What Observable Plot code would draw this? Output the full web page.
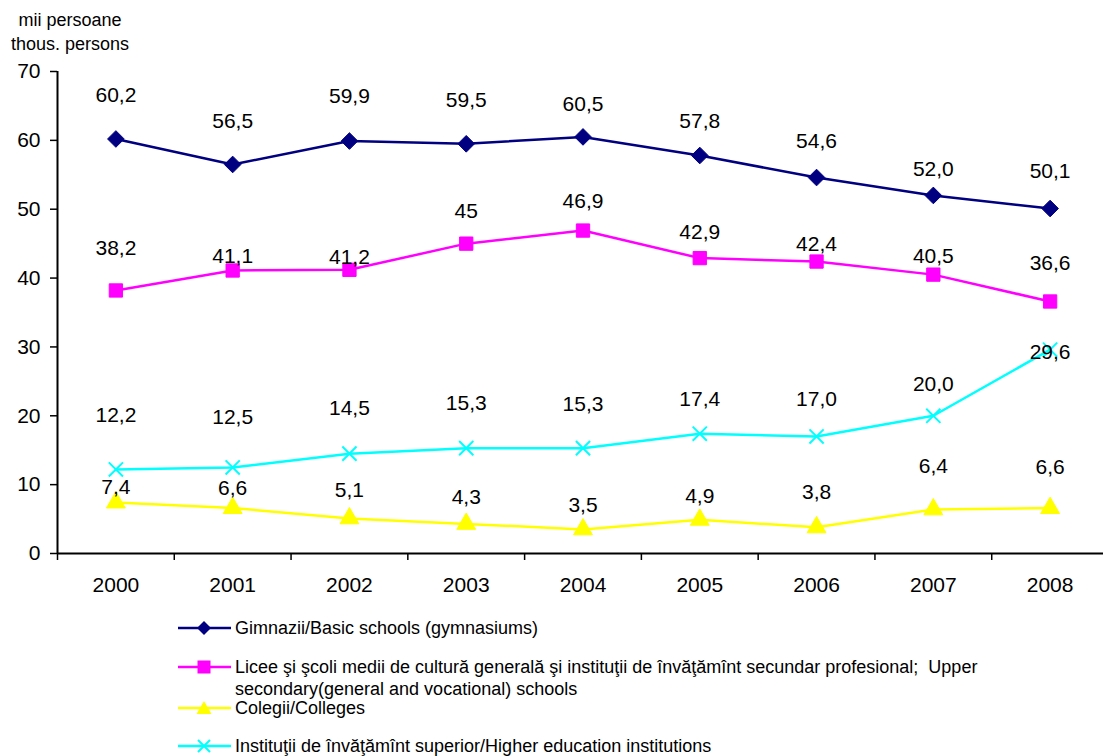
<!DOCTYPE html>
<html>
<head>
<meta charset="utf-8">
<script src="https://cdn.jsdelivr.net/npm/d3@7"></script>
<script src="https://cdn.jsdelivr.net/npm/@observablehq/plot@0.6"></script>
<style>
  body { margin: 0; background: #fff; font-family: "Liberation Sans", Arial, sans-serif; }
  #wrap { position: relative; width: 1103px; height: 756px; overflow: hidden; }
  #unit { position: absolute; left: 0; top: 8px; width: 140px; text-align: center; font-size: 18px; line-height: 24px; color: #000; }
  #legend { position: absolute; left: 0; top: 0; width: 1103px; font-size: 18px; color: #000; }
  .item { position: absolute; left: 178px; }
  .item svg { position: absolute; left: 0; top: 0; }
  .item .txt { position: absolute; left: 57px; top: 0; line-height: 22px; white-space: nowrap; }
</style>
</head>
<body>
<div id="wrap">
  <div id="chart"></div>
  <div id="unit">mii persoane<br>thous. persons</div>
  <div id="legend"></div>
</div>
<script>
// ---- data ----
const years = [2000, 2001, 2002, 2003, 2004, 2005, 2006, 2007, 2008];
const gimnazii = [60.2, 56.5, 59.9, 59.5, 60.5, 57.8, 54.6, 52.0, 50.1];
const licee = [38.2, 41.1, 41.2, 45, 46.9, 42.9, 42.4, 40.5, 36.6];
const colegii = [7.4, 6.6, 5.1, 4.3, 3.5, 4.9, 3.8, 6.4, 6.6];
const superior = [12.2, 12.5, 14.5, 15.3, 15.3, 17.4, 17.0, 20.0, 29.6];
const yTicks = [0, 10, 20, 30, 40, 50, 60, 70];
const seriesNames = [
  "Gimnazii/Basic schools (gymnasiums)",
  "Licee şi şcoli medii de cultură generală şi instituţii de învăţămînt secundar profesional;  Upper secondary(general and vocational) schools",
  "Colegii/Colleges",
  "Instituţii de învăţămînt superior/Higher education institutions"
];

// ---- styling (not data) ----
const colors = ["#000080", "#FF00FF", "#FFFF00", "#00FFFF"];
const symbols = ["diamond2", "square", "triangle", "times"];
// vertical lift of each value label above its point, in pixels
const lift = [
  [44, 43, 45, 44, 33, 34, 36, 26, 37],
  [42, 14, 13, 32, 29, 26, 17, 18, 38],
  [15, 20, 28, 27, 24, 23, 35, 43, 41],
  [54, 50, 45, 45, 44, 34, 37, 32, -3]
];
const fmt = [
  v => v.toFixed(1).replace(".", ","),
  v => String(v).replace(".", ","),
  v => v.toFixed(1).replace(".", ","),
  v => v.toFixed(1).replace(".", ",")
];

const allSeries = [gimnazii, licee, colegii, superior];
const tables = allSeries.map((vals, s) => vals.map((v, i) => ({year: years[i], value: v, series: s})));

const marks = [];
// axes
marks.push(Plot.axisY({ticks: yTicks, tickSize: 7, tickPadding: 10, fontSize: 21, label: null, stroke: "#000", strokeWidth: 1.5}));
marks.push(Plot.axisX({ticks: d3.range(years[0] - 0.5, years[years.length - 1] + 1, 1), tickSize: 7, tickFormat: () => "", label: null, strokeWidth: 1.5}));
marks.push(Plot.axisX({ticks: years, tickSize: 0, tickPadding: 24, fontSize: 21, tickFormat: d => String(d), label: null}));
marks.push(Plot.ruleY([0], {stroke: "#000", strokeWidth: 2}));
marks.push(Plot.ruleX([years[0] - 0.5], {y1: 0, y2: 70, stroke: "#000", strokeWidth: 2}));

tables.forEach((t, s) => {
  marks.push(Plot.line(t, {x: "year", y: "value", stroke: colors[s], strokeWidth: 2.5}));
});
tables.forEach((t, s) => {
  if (symbols[s] === "times") {
    marks.push(Plot.dot(t, {x: "year", y: "value", symbol: "times", r: 6.5, stroke: colors[s], strokeWidth: 2}));
  } else {
    const r = symbols[s] === "square" ? 7.5 : symbols[s] === "triangle" ? 7 : 7.5;
    marks.push(Plot.dot(t, {x: "year", y: "value", symbol: symbols[s], r, fill: colors[s], stroke: colors[s], strokeWidth: 1}));
  }
});
tables.forEach((t, s) => {
  t.forEach((d, i) => {
    marks.push(Plot.text([d], {x: "year", y: "value", text: d => fmt[s](d.value), dy: -lift[s][i], fontSize: 21, fill: "#000"}));
  });
});

const chart = Plot.plot({
  width: 1103,
  height: 600,
  marginTop: 71,
  marginBottom: 47,
  marginLeft: 57,
  marginRight: -5,
  style: {fontFamily: "'Liberation Sans', Arial, sans-serif", color: "#000", background: "#fff", overflow: "visible"},
  x: {type: "linear", domain: [years[0] - 0.5, years[years.length - 1] + 0.5], axis: null},
  y: {domain: [0, 70], axis: null},
  marks
});
document.getElementById("chart").appendChild(chart);

// ---- legend ----
const legendRows = [628, 667, 708, 746];
const legend = d3.select("#legend");
seriesNames.forEach((name, s) => {
  const item = legend.append("div").attr("class", "item").style("top", (legendRows[s] - 11) + "px");
  const svg = item.append("svg").attr("width", 54).attr("height", 22);
  svg.append("line").attr("x1", 0).attr("x2", 53).attr("y1", 11).attr("y2", 11).attr("stroke", colors[s]).attr("stroke-width", 2.5);
  const g = svg.append("g").attr("transform", "translate(26,11)");
  if (s === 0) g.append("path").attr("d", "M0,-7L7,0L0,7L-7,0Z").attr("fill", colors[s]);
  if (s === 1) g.append("rect").attr("x", -6.5).attr("y", -6.5).attr("width", 13).attr("height", 13).attr("fill", colors[s]);
  if (s === 2) g.append("path").attr("d", "M0,-7L7.5,6L-7.5,6Z").attr("fill", colors[s]);
  if (s === 3) g.append("path").attr("d", "M-6,-6L6,6M6,-6L-6,6").attr("stroke", colors[s]).attr("stroke-width", 2);
  const txt = item.append("div").attr("class", "txt");
  if (s === 1) {
    txt.html("Licee şi şcoli medii de cultură generală şi instituţii de învăţămînt secundar profesional;&nbsp; Upper<br>secondary(general and vocational) schools");
  } else {
    txt.text(name);
  }
});
</script>
</body>
</html>
